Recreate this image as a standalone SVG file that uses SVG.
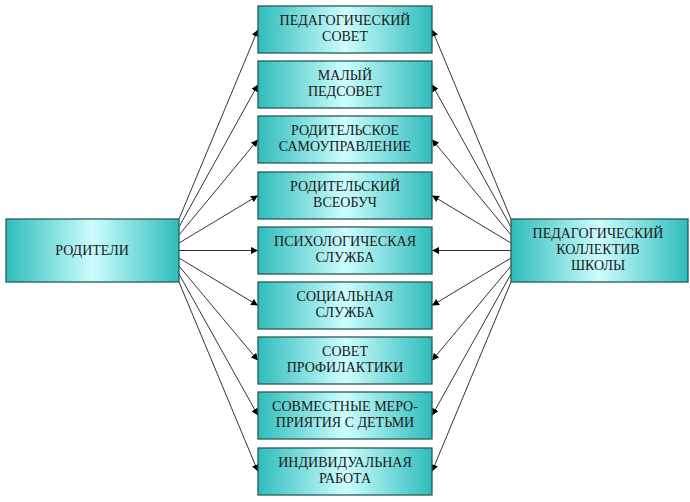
<svg xmlns="http://www.w3.org/2000/svg" width="690" height="502" viewBox="0 0 690 502">
<defs>
<linearGradient id="g" x1="0" y1="0" x2="1" y2="0">
<stop offset="0" stop-color="#2fbcbc"/>
<stop offset="0.5" stop-color="#cdfdfd"/>
<stop offset="1" stop-color="#2fbcbc"/>
</linearGradient>
<marker id="ah" viewBox="0 0 10 10" refX="10" refY="5" markerWidth="7" markerHeight="7" markerUnits="userSpaceOnUse" orient="auto">
<path d="M0,0 L10,5 L0,10 z" fill="#000"/>
</marker>
<style>
.box{fill:url(#g);stroke:#2a5a5a;stroke-width:1.3}
.t{font-size:14px;fill:#1a1a1a;text-anchor:middle}
.c{stroke:#000;stroke-width:0.8;fill:none;marker-end:url(#ah)}
</style>
</defs>
<rect width="690" height="502" fill="#fff"/>
<g id="connectors">
<line class="c" x1="179" y1="219" x2="258" y2="29.5"/>
<line class="c" x1="179" y1="227" x2="258" y2="84.5"/>
<line class="c" x1="179" y1="235" x2="258" y2="139.5"/>
<line class="c" x1="179" y1="243" x2="258" y2="195.5"/>
<line class="c" x1="179" y1="250.5" x2="258" y2="250.5"/>
<line class="c" x1="179" y1="258" x2="258" y2="305.5"/>
<line class="c" x1="179" y1="266" x2="258" y2="360.5"/>
<line class="c" x1="179" y1="274" x2="258" y2="415.5"/>
<line class="c" x1="179" y1="282" x2="258" y2="471.5"/>
<line class="c" x1="511" y1="219" x2="432" y2="29.5"/>
<line class="c" x1="511" y1="227" x2="432" y2="84.5"/>
<line class="c" x1="511" y1="235" x2="432" y2="139.5"/>
<line class="c" x1="511" y1="243" x2="432" y2="195.5"/>
<line class="c" x1="511" y1="250.5" x2="432" y2="250.5"/>
<line class="c" x1="511" y1="258" x2="432" y2="305.5"/>
<line class="c" x1="511" y1="266" x2="432" y2="360.5"/>
<line class="c" x1="511" y1="274" x2="432" y2="415.5"/>
<line class="c" x1="511" y1="282" x2="432" y2="471.5"/>
</g>
<g font-family="Liberation Serif, DejaVu Serif, serif">
<g id="roditeli">
<rect class="box" x="6" y="219" width="173" height="63"/>
<text class="t" x="92" y="255">РОДИТЕЛИ</text>
</g>
<g id="kollektiv">
<rect class="box" x="511" y="219" width="177" height="63"/>
<text class="t" x="598" y="238">ПЕДАГОГИЧЕСКИЙ</text>
<text class="t" x="598" y="254">КОЛЛЕКТИВ</text>
<text class="t" x="598" y="270">ШКОЛЫ</text>
</g>
<g id="n1">
<rect class="box" x="258" y="6" width="174" height="47"/>
<text class="t" x="345" y="25">ПЕДАГОГИЧЕСКИЙ</text>
<text class="t" x="345" y="41">СОВЕТ</text>
</g>
<g id="n2">
<rect class="box" x="258" y="61" width="174" height="47"/>
<text class="t" x="345" y="80">МАЛЫЙ</text>
<text class="t" x="345" y="96">ПЕДСОВЕТ</text>
</g>
<g id="n3">
<rect class="box" x="258" y="116" width="174" height="47"/>
<text class="t" x="345" y="135">РОДИТЕЛЬСКОЕ</text>
<text class="t" x="345" y="151">САМОУПРАВЛЕНИЕ</text>
</g>
<g id="n4">
<rect class="box" x="258" y="172" width="174" height="47"/>
<text class="t" x="345" y="191">РОДИТЕЛЬСКИЙ</text>
<text class="t" x="345" y="207">ВСЕОБУЧ</text>
</g>
<g id="n5">
<rect class="box" x="258" y="227" width="174" height="47"/>
<text class="t" x="345" y="246">ПСИХОЛОГИЧЕСКАЯ</text>
<text class="t" x="345" y="262">СЛУЖБА</text>
</g>
<g id="n6">
<rect class="box" x="258" y="282" width="174" height="47"/>
<text class="t" x="345" y="301">СОЦИАЛЬНАЯ</text>
<text class="t" x="345" y="317">СЛУЖБА</text>
</g>
<g id="n7">
<rect class="box" x="258" y="337" width="174" height="47"/>
<text class="t" x="345" y="356">СОВЕТ</text>
<text class="t" x="345" y="372">ПРОФИЛАКТИКИ</text>
</g>
<g id="n8">
<rect class="box" x="258" y="392" width="174" height="47"/>
<text class="t" x="345" y="411">СОВМЕСТНЫЕ МЕРО-</text>
<text class="t" x="345" y="427">ПРИЯТИЯ С ДЕТЬМИ</text>
</g>
<g id="n9">
<rect class="box" x="258" y="448" width="174" height="47"/>
<text class="t" x="345" y="467">ИНДИВИДУАЛЬНАЯ</text>
<text class="t" x="345" y="483">РАБОТА</text>
</g>
</g>
</svg>
